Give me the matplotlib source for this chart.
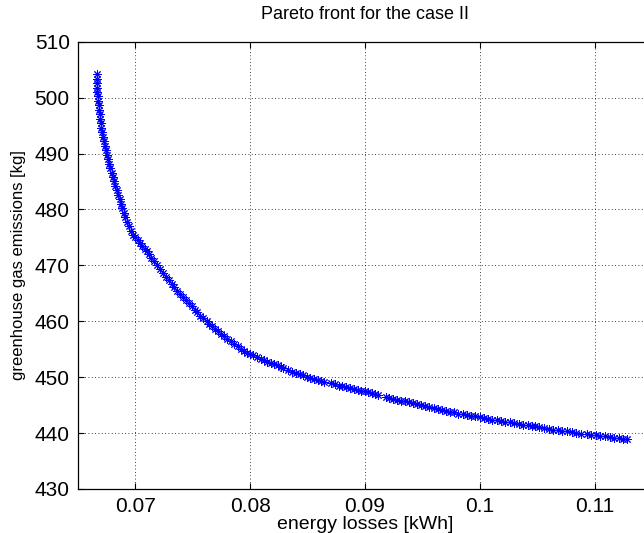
import matplotlib
matplotlib.use("Agg")
import matplotlib.pyplot as plt

# Pareto front points
# steep part (low losses, high emissions)
losses_steep = [0.06663, 0.06664, 0.06666, 0.06667, 0.06669, 0.06672, 0.06676, 0.06680,
                0.06684, 0.06688, 0.06693, 0.06698, 0.06703, 0.06709, 0.06716, 0.06723,
                0.06731, 0.06740, 0.06749, 0.06759, 0.06770, 0.06781, 0.06792, 0.06803,
                0.06814, 0.06826, 0.06838, 0.06850, 0.06862, 0.06874, 0.06886, 0.06899,
                0.06913, 0.06928, 0.06944, 0.06961, 0.06980, 0.07000, 0.07020]
emissions_steep = [504.2, 503.4, 502.6, 501.8, 501.0, 500.2, 499.4, 498.6,
                   497.8, 497.0, 496.2, 495.4, 494.6, 493.8, 493.0, 492.2,
                   491.4, 490.6, 489.8, 489.0, 488.2, 487.4, 486.6, 485.8,
                   485.0, 484.2, 483.4, 482.6, 481.8, 481.0, 480.2, 479.4,
                   478.6, 477.8, 477.0, 476.2, 475.5, 475.0, 474.5]

# knee of the front
losses_knee = [0.07040, 0.07060, 0.07080, 0.07100, 0.07120, 0.07140, 0.07165, 0.07190,
               0.07215, 0.07240, 0.07265, 0.07290, 0.07315, 0.07340, 0.07365, 0.07390,
               0.07415, 0.07440, 0.07465, 0.07490, 0.07515, 0.07540, 0.07565, 0.07590,
               0.07620, 0.07645, 0.07670, 0.07695, 0.07720, 0.07745, 0.07770, 0.07800,
               0.07830, 0.07860, 0.07890, 0.07920, 0.07950, 0.07975, 0.08000]
emissions_knee = [474.0, 473.5, 473.0, 472.6, 472.0, 471.4, 470.7, 470.0,
                  469.3, 468.6, 468.0, 467.3, 466.7, 466.1, 465.5, 464.9,
                  464.4, 463.8, 463.2, 462.7, 462.1, 461.6, 461.0, 460.5,
                  460.0, 459.5, 459.1, 458.6, 458.2, 457.7, 457.3, 456.8,
                  456.4, 455.9, 455.5, 455.0, 454.7, 454.4, 454.1]

# flat tail (high losses, low emissions)
losses_tail = [0.08025, 0.08058, 0.08090, 0.08122, 0.08150, 0.08178, 0.08210, 0.08238,
               0.08265, 0.08290, 0.08330, 0.08365, 0.08398, 0.08430, 0.08462, 0.08495,
               0.08525, 0.08555, 0.08590, 0.08620, 0.08645, 0.08705, 0.08735, 0.08770,
               0.08800, 0.08835, 0.08865, 0.08900, 0.08935, 0.08965, 0.09000, 0.09030,
               0.09060, 0.09085, 0.09110, 0.09180, 0.09210, 0.09245, 0.09280, 0.09310,
               0.09345, 0.09380, 0.09415, 0.09450, 0.09485, 0.09520, 0.09560, 0.09600,
               0.09635, 0.09670, 0.09705, 0.09740, 0.09775, 0.09810, 0.09850, 0.09885,
               0.09920, 0.09955, 0.10000, 0.10035, 0.10070, 0.10110, 0.10150, 0.10185,
               0.10220, 0.10260, 0.10300, 0.10340, 0.10380, 0.10420, 0.10455, 0.10480,
               0.10520, 0.10560, 0.10600, 0.10640, 0.10680, 0.10720, 0.10760, 0.10800,
               0.10840, 0.10880, 0.10930, 0.10970, 0.11010, 0.11050, 0.11090, 0.11130,
               0.11170, 0.11210, 0.11250, 0.11280]
emissions_tail = [453.9, 453.6, 453.3, 453.1, 452.8, 452.6, 452.3, 452.1,
                  451.9, 451.6, 451.3, 451.0, 450.8, 450.6, 450.4, 450.1,
                  449.9, 449.7, 449.5, 449.3, 449.2, 448.9, 448.7, 448.5,
                  448.4, 448.2, 448.0, 447.9, 447.7, 447.6, 447.5, 447.3,
                  447.2, 447.0, 446.9, 446.4, 446.3, 446.1, 446.0, 445.8,
                  445.7, 445.5, 445.3, 445.2, 445.0, 444.9, 444.6, 444.4,
                  444.3, 444.1, 444.0, 443.8, 443.7, 443.5, 443.4, 443.2,
                  443.1, 443.0, 442.8, 442.7, 442.5, 442.4, 442.3, 442.2,
                  442.0, 441.9, 441.8, 441.6, 441.5, 441.4, 441.3, 441.2,
                  441.0, 440.9, 440.8, 440.6, 440.5, 440.4, 440.3, 440.2,
                  440.1, 439.9, 439.8, 439.7, 439.7, 439.5, 439.4, 439.3,
                  439.2, 439.1, 439.0, 438.9]

x_ticks = [0.07, 0.08, 0.09, 0.1, 0.11]
x_tick_labels = ["0.07", "0.08", "0.09", "0.1", "0.11"]
y_ticks = [430, 440, 450, 460, 470, 480, 490, 500, 510]

losses = losses_steep + losses_knee + losses_tail
emissions = emissions_steep + emissions_knee + emissions_tail

plt.rcParams['font.family'] = ['Liberation Sans', 'DejaVu Sans']

fig = plt.figure(figsize=(6.44, 5.33), dpi=100)
# axes runs a bit past the right edge, like the cropped original
ax = fig.add_axes([78 / 644, 44 / 533, 574 / 644, 447.3 / 533])

ax.plot(losses, emissions, linestyle='none', marker=(8, 2, 0), markersize=6,
        markeredgewidth=0.7, color='#0000ff')

ax.set_xlim(0.065, 0.115)
ax.set_ylim(430, 510)
ax.set_xticks(x_ticks)
ax.set_xticklabels(x_tick_labels)
ax.set_yticks(y_ticks)

ax.grid(True, linestyle=(0, (1, 3)), color='black', linewidth=0.6)
ax.tick_params(direction='in', length=4, top=True, right=True, labelsize=15, pad=6)
for s in ax.spines.values():
    s.set_linewidth(0.9)

ax.set_title('Pareto front for the case II', fontsize=13, pad=16)
ax.set_xlabel('energy losses [kWh]', fontsize=14, labelpad=0)
ax.set_ylabel('greenhouse gas emissions [kg]', fontsize=12)
ax.yaxis.set_label_coords(-0.09, 0.5)

fig.savefig('out.png', dpi=100)
